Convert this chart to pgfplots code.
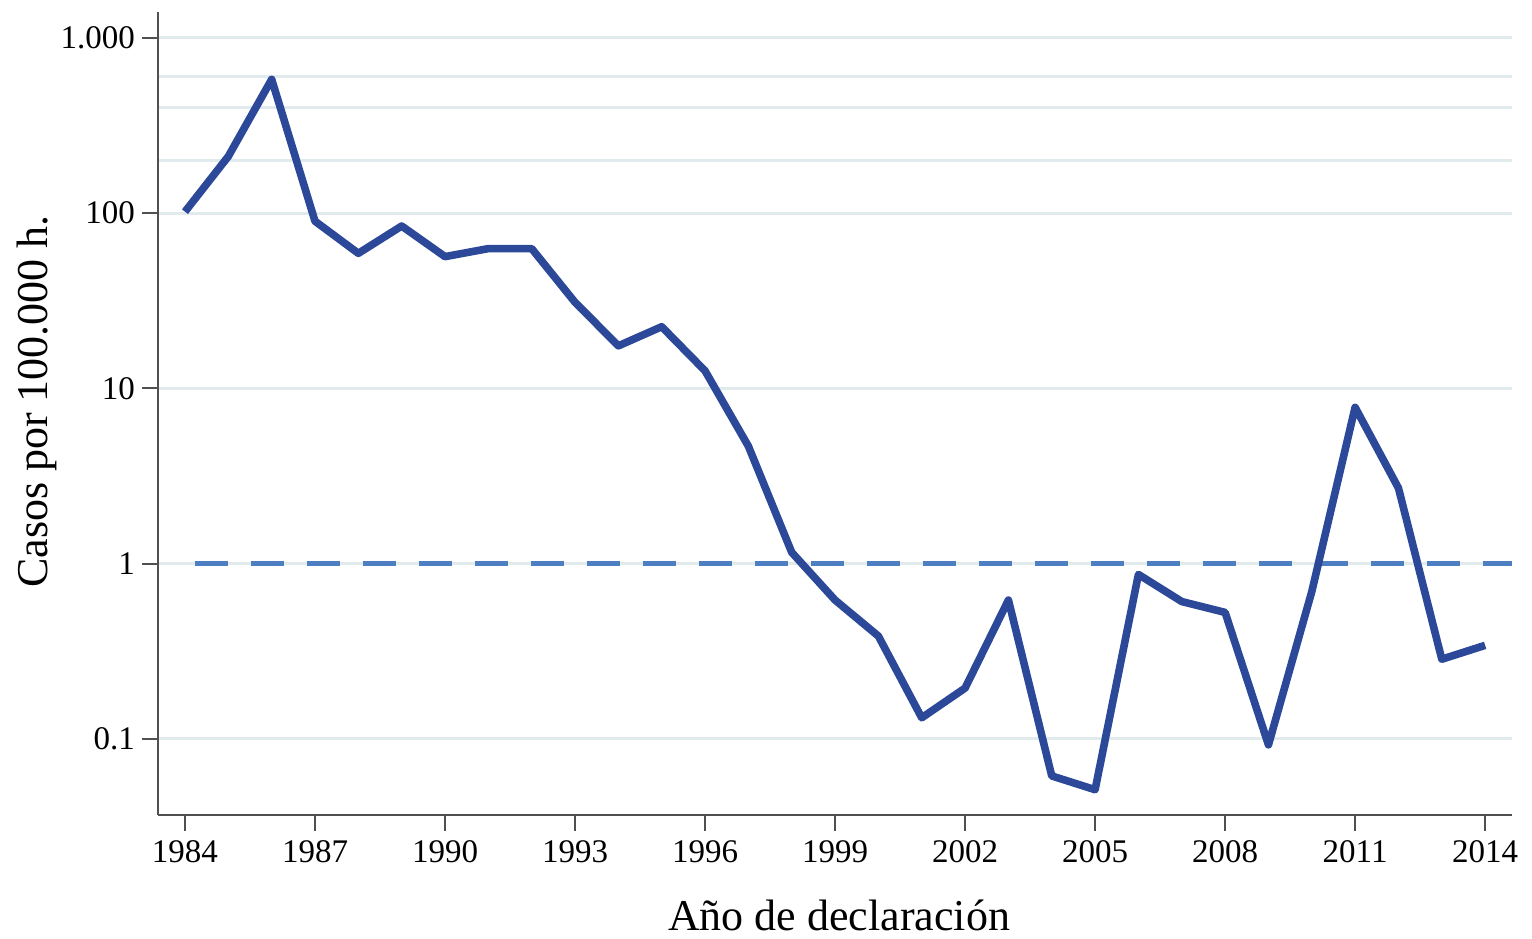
\documentclass[border=0pt]{standalone}
\usepackage{fontspec}
\setmainfont{Liberation Serif}
\usepackage{pgfplots}
\pgfplotsset{compat=1.18}

\definecolor{mainline}{HTML}{2B4899}
\definecolor{refline}{HTML}{4C7EC1}
\definecolor{gridc}{HTML}{E1EBEE}
\definecolor{axc}{HTML}{505050}

\begin{document}
\begin{tikzpicture}
\begin{axis}[
  scale only axis, width=677pt, height=401.5pt,
  ymode=log,
  xmin=1983.377, xmax=2014.62, ymin=0.0368, ymax=1406,
  axis lines*=left,
  axis line style={axc, line width=1.1pt, -},
  tick align=outside, major tick length=8pt,
  tick style={axc, line width=1pt},
  xtick={1984,1987,...,2014},
  ytick={0.1,1,10,100,1000},
  yticklabels={0.1,1,10,100,1.000},
  minor ytick={200,400,600}, minor tick length=0pt,
  ymajorgrids, yminorgrids,
  major grid style={gridc, line width=1.5pt},
  minor grid style={gridc, line width=1.5pt},
  /pgf/number format/1000 sep={},
  /pgf/number format/assume math mode=true,
  ticklabel style={font=\fontsize{16.5}{19}\selectfont},
  xticklabel style={yshift=-1.5pt},
  xlabel={Año de declaración},
  ylabel={Casos por 100.000 h.},
  label style={font=\fontsize{22}{26}\selectfont},
  xlabel style={at={(axis description cs:0.503,-0.1432)}, anchor=base},
  ylabel style={at={(axis description cs:-0.0893,0.515)}, anchor=center},
]
\coordinate (sw) at (rel axis cs:0,0);
\coordinate (ne) at (rel axis cs:1,1);
\addplot[refline, line width=2.6pt, dash pattern=on 16.5pt off 11.5pt]
  coordinates {(1984.23,1) (2014.62,1)};
\addplot[mainline, line width=3.8pt, line join=round] coordinates {
(1984,102) (1985,211) (1986,580) (1987,90) (1988,59) (1989,84.5)
(1990,56.5) (1991,62.8) (1992,62.8) (1993,31) (1994,17.5) (1995,22.5)
(1996,12.6) (1997,4.68) (1998,1.16) (1999,0.62) (2000,0.386)
(2001,0.132) (2002,0.195) (2003,0.62) (2004,0.0615) (2005,0.0513)
(2006,0.868) (2007,0.608) (2008,0.527) (2009,0.0925) (2010,0.693)
(2011,7.8) (2012,2.70) (2013,0.285) (2014,0.342)
};
\end{axis}
\pgfresetboundingbox
\path ([shift={(-79pt,-61.5pt)}]sw) rectangle ([shift={(10pt,6pt)}]ne);
\end{tikzpicture}
\end{document}
